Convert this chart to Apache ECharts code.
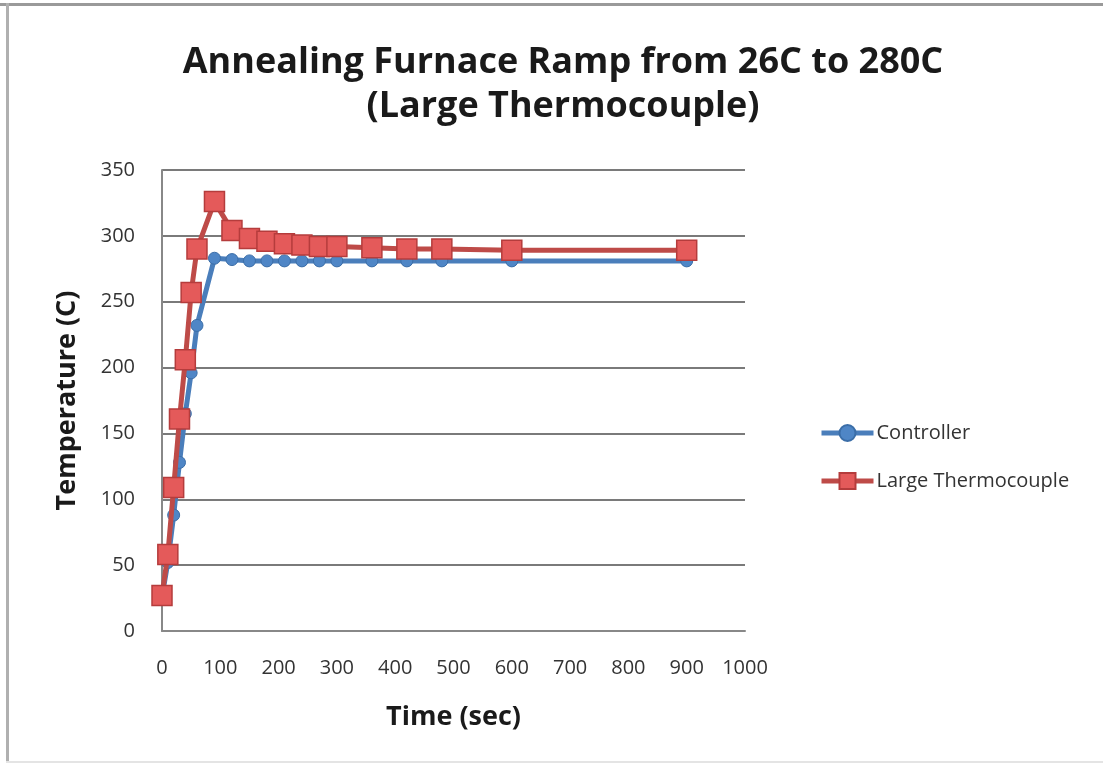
<!DOCTYPE html>
<html>
<head>
<meta charset="utf-8">
<script src="https://cdn.jsdelivr.net/npm/echarts@6/dist/echarts.min.js"></script>
<style>
  html, body { margin: 0; padding: 0; background: #fff; }
  #chart { width: 1103px; height: 765px; }
</style>
</head>
<body>
<div id="chart"></div>
<script>
// Sample times (seconds)
const timeSec = [0, 10, 20, 30, 40, 50, 60, 90, 120, 150, 180, 210, 240, 270, 300, 360, 420, 480, 600, 900];
// Furnace controller reading (C)
const controller = [26, 52, 88, 128, 165, 196, 232, 283, 282, 281, 281, 281, 281, 281, 281, 281, 281, 281, 281, 281];
// Large thermocouple reading (C)
const thermocouple = [27, 58, 109, 161, 206, 257, 290, 326, 304, 298, 296, 294, 293, 292, 292, 291, 290, 290, 289, 289];

const xTicks = [0, 100, 200, 300, 400, 500, 600, 700, 800, 900, 1000];

const pairs = (xs, ys) => xs.map((x, i) => [x, ys[i]]);

const font = '"Open Sans", "Liberation Sans", sans-serif';

const chart = echarts.init(document.getElementById('chart'), null, { renderer: 'canvas' });

chart.setOption({
  backgroundColor: '#ffffff',
  animation: false,
  title: {
    text: 'Annealing Furnace Ramp from 26C to 280C\n(Large Thermocouple)',
    left: 558,
    top: 36,
    textAlign: 'center',
    textStyle: {
      fontFamily: font,
      fontWeight: 'bold',
      fontSize: 36,
      lineHeight: 44,
      color: '#1a1a1a'
    }
  },
  legend: {
    orient: 'vertical',
    left: 814,
    top: 418,
    itemGap: 28,
    itemWidth: 52,
    itemHeight: 20,
    lineStyle: { width: 5 },
    textStyle: { fontFamily: font, fontSize: 20, color: '#333', padding: [0, 0, 0, -2] },
    data: ['Controller', 'Large Thermocouple']
  },
  grid: { left: 162, right: 358, top: 170, bottom: 134 },
  xAxis: {
    type: 'value',
    min: 0,
    max: 1000,
    interval: 100,
    name: 'Time (sec)',
    nameLocation: 'middle',
    nameGap: 73,
    nameTextStyle: { fontFamily: font, fontWeight: 'bold', fontSize: 27, color: '#1a1a1a' },
    axisLine: { show: true, lineStyle: { color: '#888', width: 2 } },
    axisTick: { show: false },
    splitLine: { show: false },
    axisLabel: {
      fontFamily: font, fontSize: 20, color: '#333', margin: 27,
      formatter: v => (xTicks.includes(v) ? String(v) : '')
    }
  },
  yAxis: {
    type: 'value',
    min: 0,
    max: 350,
    interval: 50,
    name: 'Temperature (C)',
    nameLocation: 'middle',
    nameGap: 81,
    nameTextStyle: { fontFamily: font, fontWeight: 'bold', fontSize: 27, color: '#1a1a1a' },
    axisLine: { show: true, lineStyle: { color: '#888', width: 2 } },
    axisTick: { show: false },
    splitLine: { show: true, lineStyle: { color: '#7a7a7a', width: 2 } },
    axisLabel: { fontFamily: font, fontSize: 20, color: '#333', margin: 27 }
  },
  graphic: [
    { type: 'rect', shape: { x: 0, y: 3, width: 1103, height: 3 }, style: { fill: '#9a9a9a' }, silent: true },
    { type: 'rect', shape: { x: 6, y: 3, width: 3, height: 760 }, style: { fill: '#b0b0b0' }, silent: true },
    { type: 'rect', shape: { x: 6, y: 761, width: 1097, height: 2 }, style: { fill: '#e4e4e4' }, silent: true }
  ],
  series: [
    {
      name: 'Controller',
      type: 'line',
      data: pairs(timeSec, controller),
      symbol: 'circle',
      symbolSize: 12,
      lineStyle: { color: '#4a7ebb', width: 5 },
      itemStyle: { color: '#4f86c6', borderColor: '#3b6ea8', borderWidth: 1 },
      z: 2
    },
    {
      name: 'Large Thermocouple',
      type: 'line',
      data: pairs(timeSec, thermocouple),
      symbol: 'rect',
      symbolSize: 20,
      lineStyle: { color: '#be4b48', width: 5 },
      itemStyle: { color: '#e45a5a', borderColor: '#b53c3c', borderWidth: 1.5 },
      z: 3
    }
  ]
});
</script>
</body>
</html>
